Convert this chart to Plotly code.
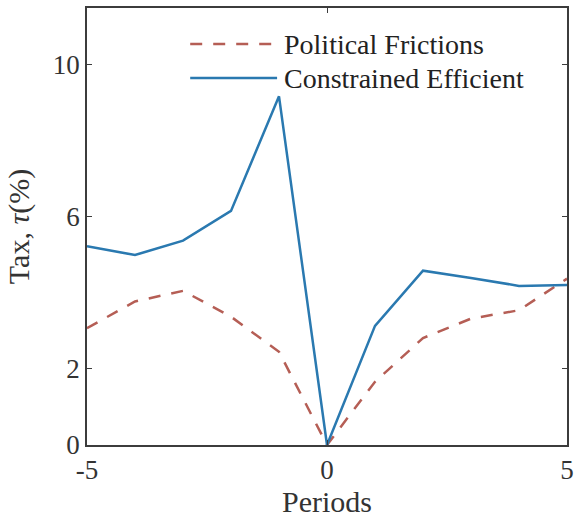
import plotly.graph_objects as go

periods = [-5, -4, -3, -2, -1, 0, 1, 2, 3, 4, 5]
political_frictions = [3.07, 3.77, 4.05, 3.37, 2.45, 0.0, 1.66, 2.81, 3.32, 3.54, 4.37]
constrained_efficient = [5.22, 4.99, 5.37, 6.15, 9.16, 0.0, 3.13, 4.58, 4.39, 4.18, 4.2]
x_ticks = [-5, 0, 5]
y_ticks = [0, 2, 6, 10]
legend_names = ["Political Frictions", "Constrained Efficient"]

red = "#b55e55"
blue = "#2a79b0"
axis_col = "#3c3c3c"
font_fam = "'Times New Roman', 'Liberation Serif', Times, serif"
dash = "12px,11px"

fig = go.Figure()
fig.add_trace(go.Scatter(x=periods, y=political_frictions, mode="lines",
                         line=dict(color=red, width=2.5, dash=dash),
                         name=legend_names[0], showlegend=False))
fig.add_trace(go.Scatter(x=periods, y=constrained_efficient, mode="lines",
                         line=dict(color=blue, width=2.5),
                         name=legend_names[1], showlegend=False))

# manual legend
leg_y = [0.9176, 0.8398]
styles = [dict(color=red, width=2.5, dash=dash), dict(color=blue, width=2.5)]
for yy, st, nm in zip(leg_y, styles, legend_names):
    fig.add_shape(type="line", xref="paper", yref="paper",
                  x0=0.215, x1=0.396, y0=yy, y1=yy, line=st)
    fig.add_annotation(xref="paper", yref="paper", x=0.406, y=yy,
                       text=nm, showarrow=False, xanchor="left", yanchor="middle",
                       font=dict(family=font_fam, size=28, color="#222222"))

fig.update_layout(
    width=574, height=518,
    margin=dict(l=87, r=7, t=8, b=73, autoexpand=False),
    plot_bgcolor="white", paper_bgcolor="white",
    font=dict(family=font_fam, size=27, color="#333333"),
    showlegend=False,
)
fig.update_xaxes(range=[-5, 5], tickvals=x_ticks, ticktext=[str(v) for v in x_ticks],
                 ticks="inside", ticklen=5, tickwidth=1.3, tickcolor=axis_col,
                 showline=True, linecolor=axis_col, linewidth=1.5, mirror="ticks",
                 showgrid=False, zeroline=False, automargin=False,
                 tickfont=dict(family=font_fam, size=27, color="#333333"),
                 title=dict(text="Periods", font=dict(family=font_fam, size=30, color="#333333"), standoff=9))
fig.update_yaxes(range=[0, 11.48], tickvals=y_ticks, ticktext=[str(v) for v in y_ticks],
                 ticks="inside", ticklen=5, tickwidth=1.3, tickcolor=axis_col,
                 showline=True, linecolor=axis_col, linewidth=1.5, mirror="ticks",
                 showgrid=False, zeroline=False, automargin=False,
                 tickfont=dict(family=font_fam, size=27, color="#333333"),
                 title=dict(text="Tax, <i>τ</i>(%)", font=dict(family=font_fam, size=30, color="#333333"), standoff=14))

fig.write_html("out.html")
